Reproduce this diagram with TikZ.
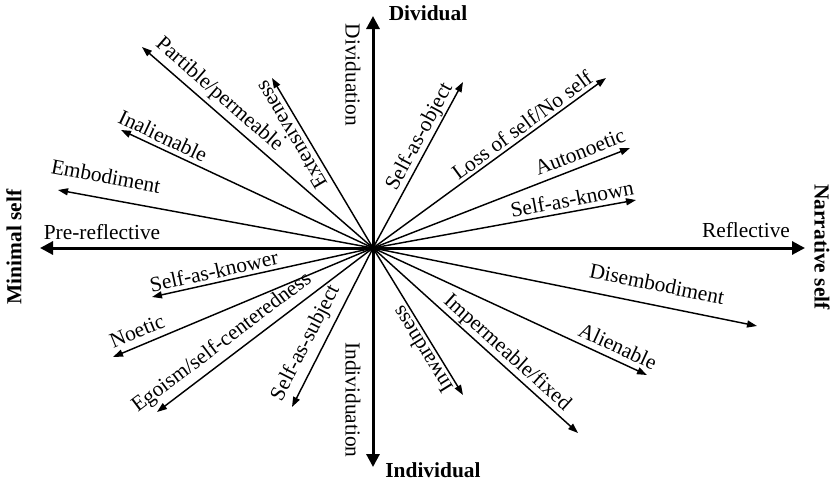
\documentclass[tikz,border=0pt]{standalone}
\usepackage{fontspec}
\setmainfont{Liberation Serif}
\usetikzlibrary{arrows.meta}
\begin{document}
\begin{tikzpicture}[x=1pt,y=-1pt,
  axis/.style={line width=3pt,-{Triangle[length=13pt,width=13pt]}},
  ray/.style={line width=1.45pt,-{Triangle[length=10pt,width=7pt]}},
  lab/.style={font=\fontsize{21.4}{24}\selectfont, inner sep=0pt},
  axlab/.style={font=\fontsize{21.4}{24}\selectfont\bfseries, inner sep=0pt}]
\useasboundingbox (0,0) rectangle (833,483);

% centre and axis ends
\coordinate (O) at (373,248);
\coordinate (up) at (373,16);
\coordinate (down) at (373,467);
\coordinate (left) at (40,248);
\coordinate (right) at (805,248);

% ray ends
\coordinate (tPartible) at (142,47);
\coordinate (tExtensive) at (272,78);
\coordinate (tInalien) at (121,130);
\coordinate (tEmbod) at (58,190);
\coordinate (tObject) at (463,82);
\coordinate (tLoss) at (606,78);
\coordinate (tAutono) at (630,148);
\coordinate (tKnown) at (636,200);
\coordinate (tDisemb) at (757,326);
\coordinate (tAlien) at (647,375);
\coordinate (tImperm) at (578,433);
\coordinate (tInward) at (463,395);
\coordinate (tKnower) at (152,297);
\coordinate (tNoetic) at (113,357);
\coordinate (tEgoism) at (157,412);
\coordinate (tSubject) at (292,407);

% rays
\foreach \t in {tPartible,tExtensive,tInalien,tEmbod,tObject,tLoss,tAutono,tKnown,
                tDisemb,tAlien,tImperm,tInward,tKnower,tNoetic,tEgoism,tSubject}
  \draw[ray] (O) -- (\t);

% axes
\draw[axis] (O) -- (up);
\draw[axis] (O) -- (down);
\draw[axis] (O) -- (left);
\draw[axis] (O) -- (right);

% axis names
\node[axlab] (nDividual) at (428,13) {Dividual};
\node[axlab] (nIndividual) at (433,470) {Individual};
\node[axlab, rotate=90] (nMinimal) at (14,247) {Minimal self};
\node[axlab, rotate=-90] (nNarrative) at (822,247) {Narrative self};

% axis labels
\node[lab, rotate=-90] (lDividuation) at (353,75) {Dividuation};
\node[lab, rotate=-90] (lIndividuation) at (353,400) {Individuation};
\node[lab] (lPre) at (102,232) {Pre-reflective};
\node[lab] (lRefl) at (746,230) {Reflective};

% ray labels
\node[lab, rotate=-10.6] (lEmbod) at (106,176) {Embodiment};
\node[lab, rotate=-25.3] (lInalien) at (163,136) {Inalienable};
\node[lab, rotate=-41.2] (lPartible) at (219,95) {Partible/permeable};
\node[lab, rotate=120.6] (lExtensive) at (291,135) {Extensiveness};
\node[lab, rotate=61.7] (lObject) at (420,137) {Self-as-object};
\node[lab, rotate=36.3] (lLoss) at (522,125) {Loss of self/No self};
\node[lab, rotate=21.5] (lAutono) at (580,152) {Autonoetic};
\node[lab, rotate=10.6] (lKnown) at (572,199) {Self-as-known};
\node[lab, rotate=-11.3] (lDisemb) at (657,284) {Disembodiment};
\node[lab, rotate=-24.7] (lAlien) at (618,346) {Alienable};
\node[lab, rotate=-41.9] (lImperm) at (507,353) {Impermeable/fixed};
\node[lab, rotate=121.7] (lInward) at (422,350) {Inwardness};
\node[lab, rotate=12.3] (lKnower) at (214,271) {Self-as-knower};
\node[lab, rotate=22.6] (lNoetic) at (137,331) {Noetic};
\node[lab, rotate=37] (lEgoism) at (222,343) {Egoism/self-centeredness};
\node[lab, rotate=62.9] (lSubject) at (306,343) {Self-as-subject};
\end{tikzpicture}
\end{document}
